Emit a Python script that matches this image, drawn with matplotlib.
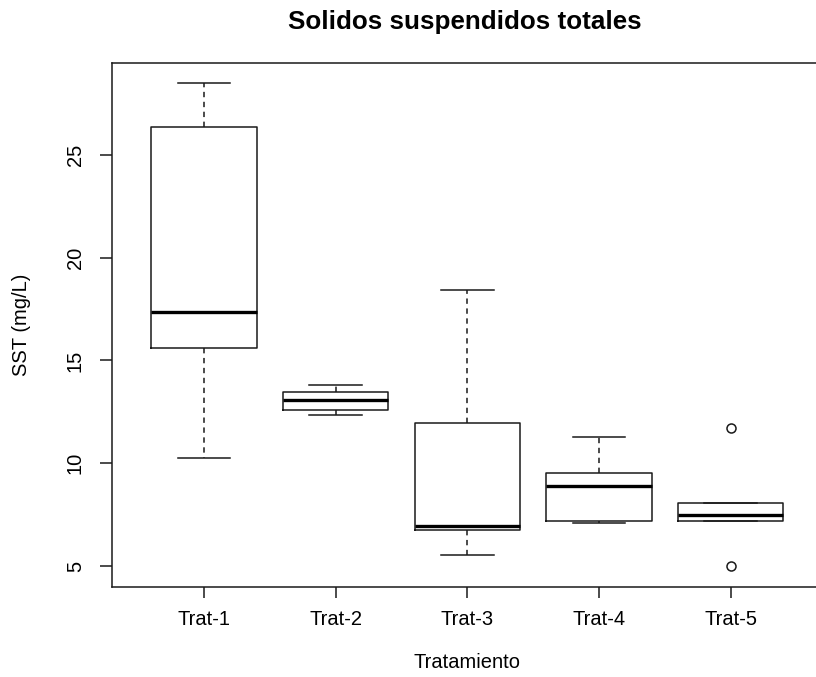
import matplotlib.pyplot as plt

plt.rcParams['font.family'] = ['Liberation Sans', 'DejaVu Sans']

# Five-number summaries per treatment (SST, mg/L)
tratamientos = ["Trat-1", "Trat-2", "Trat-3", "Trat-4", "Trat-5"]
whisker_lo = [10.27, 12.35, 5.54, 7.08, 7.20]
q1 = [15.61, 12.58, 6.77, 7.19, 7.20]
medianas = [17.35, 13.08, 6.96, 8.89, 7.47]
q3 = [26.38, 13.45, 11.97, 9.51, 8.07]
whisker_hi = [28.52, 13.79, 18.42, 11.26, 8.07]
atipicos = [[], [], [], [], [11.70, 5.00]]

stats = []
for i, name in enumerate(tratamientos):
    stats.append({
        "label": name,
        "whislo": whisker_lo[i],
        "q1": q1[i],
        "med": medianas[i],
        "q3": q3[i],
        "whishi": whisker_hi[i],
        "fliers": atipicos[i],
    })

W, H = 816, 677
fig = plt.figure(figsize=(W / 100, H / 100), dpi=100)
# plot region runs past the right edge of the figure
ax = fig.add_axes([112 / W, (H - 586.7) / H, (822.7 - 112) / W, (586.7 - 63.3) / H])

ink = "#1a1a1a"
pos = list(range(1, len(tratamientos) + 1))
ax.bxp(stats, positions=pos, widths=0.8, capwidths=0.4,
       boxprops=dict(color=ink, linewidth=1.1),
       medianprops=dict(color="black", linewidth=2.4),
       whiskerprops=dict(color=ink, linewidth=1.1, linestyle=(0, (3.5, 3))),
       capprops=dict(color=ink, linewidth=1.1),
       flierprops=dict(marker="o", markerfacecolor="none", markeredgecolor=ink,
                       markersize=6.5, markeredgewidth=1.1))

ax.set_xlim(0.3, 5.7)
ax.set_ylim(3.99, 29.46)
ax.set_yticks([5, 10, 15, 20, 25])
ax.set_yticklabels(["5", "10", "15", "20", "25"], rotation=90, va="center")
ax.set_xticks(pos)
ax.set_xticklabels(tratamientos)
ax.tick_params(axis="x", length=8, width=1.1, color=ink, labelsize=14.5, pad=9)
ax.tick_params(axis="y", length=8.5, width=1.1, color=ink, labelsize=14.5, pad=11)
for sp in ax.spines.values():
    sp.set_color(ink)
    sp.set_linewidth(1.1)

ax.set_xlabel("Tratamiento", fontsize=14.5, labelpad=17)
ax.set_ylabel("SST (mg/L)", fontsize=14.5, labelpad=25)
fig.text(465 / W, 1 - 22 / H, "Solidos suspendidos totales", ha="center", va="center",
         fontsize=18.7, fontweight="bold")

fig.savefig("out.png", dpi=100)
